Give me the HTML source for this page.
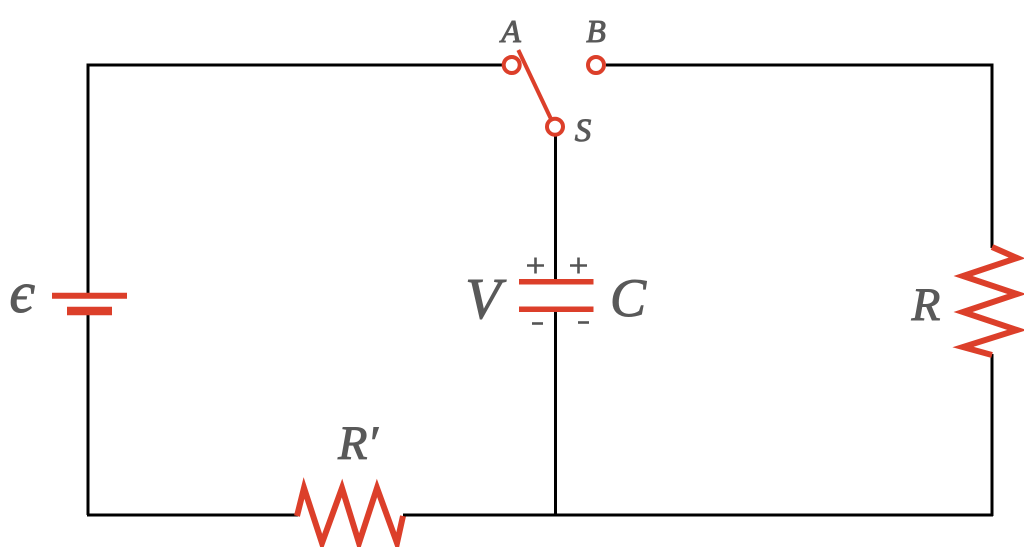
<!DOCTYPE html>
<html>
<head>
<meta charset="utf-8">
<style>
html,body{margin:0;padding:0;background:#fff;}
svg{display:block;}
text{font-family:"Liberation Serif","DejaVu Serif",serif;font-style:italic;font-weight:normal;fill:#595959;stroke:#595959;stroke-width:1;}
</style>
</head>
<body>
<svg width="1024" height="547" viewBox="0 0 1024 547" xmlns="http://www.w3.org/2000/svg">
  <!-- black wires -->
  <g stroke="#000" stroke-width="3" fill="none">
    <polyline points="503,65 88,65 88,293"/>
    <line x1="88" y1="315" x2="88" y2="515"/>
    <polyline points="87,515 298,515"/>
    <line x1="403" y1="515" x2="993" y2="515"/>
    <polyline points="606,65 992,65 992,248"/>
    <line x1="992" y1="354" x2="992" y2="516"/>
    <line x1="555.5" y1="135" x2="555.5" y2="280"/>
    <line x1="555.5" y1="311" x2="555.5" y2="515"/>
  </g>

  <!-- red components -->
  <g stroke="#dc3f2a" fill="none">
    <circle cx="511.7" cy="65" r="8" stroke-width="4" fill="#fff"/>
    <circle cx="596" cy="65" r="8" stroke-width="4" fill="#fff"/>
    <circle cx="555" cy="126.7" r="8" stroke-width="4" fill="#fff"/>
    <line x1="518.3" y1="50" x2="551" y2="119" stroke-width="4"/>
    <line x1="52" y1="295.7" x2="127" y2="295.7" stroke-width="6"/>
    <line x1="67" y1="311" x2="112" y2="311" stroke-width="8.5"/>
    <line x1="519" y1="281.7" x2="593.5" y2="281.7" stroke-width="5.5"/>
    <line x1="519" y1="309.3" x2="593.5" y2="309.3" stroke-width="5.5"/>
    <polyline points="297,516 304,488 322,543 342,488 359,543 377,488 397,543 403,516" stroke-width="6" stroke-linejoin="miter"/>
    <polyline points="992,247 1017,258 963,276 1017,294 963,312 1017,330 963,347 992,355" stroke-width="6" stroke-linejoin="miter"/>
  </g>

  <!-- plus / minus -->
  <g stroke="#555" stroke-width="2.6">
    <line x1="527" y1="265.5" x2="544" y2="265.5"/>
    <line x1="535.5" y1="257.5" x2="535.5" y2="273.5"/>
    <line x1="570" y1="265.5" x2="587" y2="265.5"/>
    <line x1="578.5" y1="257.5" x2="578.5" y2="273.5"/>
    <line x1="532" y1="323.5" x2="543" y2="323.5"/>
    <line x1="578" y1="322.5" x2="589" y2="322.5"/>
  </g>

  <!-- labels -->
  <text x="511" y="42" font-size="32" text-anchor="middle">A</text>
  <text x="596" y="42" font-size="32" text-anchor="middle">B</text>
  <text x="583" y="141" font-size="33" text-anchor="middle">S</text>
  <text x="22" y="312" font-size="58" text-anchor="middle">є</text>
  <text x="483" y="318" font-size="58" text-anchor="middle">V</text>
  <text x="628" y="316" font-size="54" text-anchor="middle">C</text>
  <text x="926" y="320" font-size="47" text-anchor="middle">R</text>
  <text x="358" y="459" font-size="48" text-anchor="middle">R′</text>
</svg>
</body>
</html>
